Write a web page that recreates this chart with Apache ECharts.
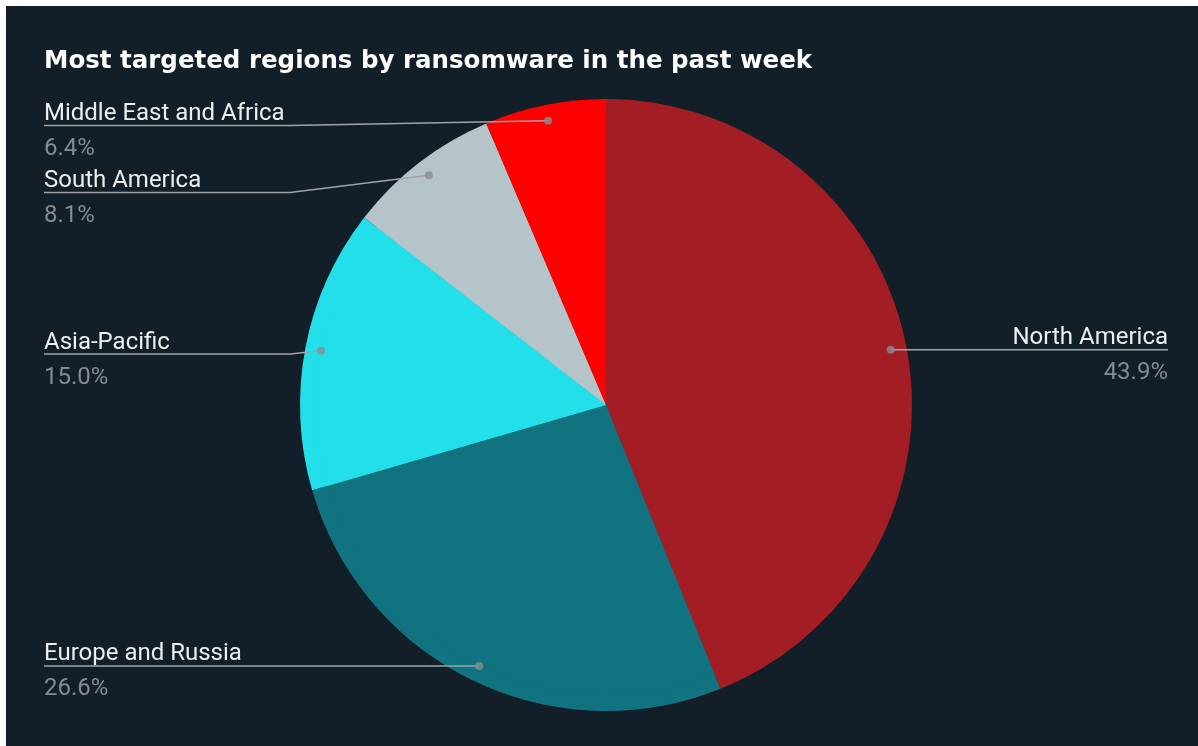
<!DOCTYPE html>
<html lang="en" style="height: 100%">
<head>
    <meta charset="utf-8"/>
    <meta name="viewport" content="width=device-width, initial-scale=1.0"/>
</head>
<body style="height: 100%; margin: 0; overflow: hidden; background: #ffffff">
<div id="container" style="position: absolute; left: 6px; top: 6px; width: 1200px; height: 740px; background: #121e28"></div>

<script type="text/javascript" src="https://cdn.jsdelivr.net/npm/echarts@6/dist/echarts.min.js"></script>

<script type="text/javascript">
    // data
    var regions = ["North America", "Europe and Russia", "Asia-Pacific", "South America", "Middle East and Africa"];
    var shares = [43.9, 26.6, 15.0, 8.1, 6.4];
    var sliceColors = ["#a31d24", "#10737f", "#22dfea", "#b5c4c8", "#ff0000"];

    var R = 306;        // pie radius in px
    var DOT = 0.948;    // where the label dots sit, as a fraction of R
    var center = [600, 399];
    var labelTop = 86;  // labels are kept below this line (under the title)

    var dom = document.getElementById("container");
    var myChart = echarts.init(dom, null, {renderer: "canvas"});

    var pieData = regions.map(function (name, i) {
        return {name: name, value: shares[i], itemStyle: {color: sliceColors[i]}};
    });

    // angle of the middle of each slice, in the same units as the values
    var total = shares.reduce(function (a, b) { return a + b; }, 0);
    var dotData = [];
    var acc = 0;
    shares.forEach(function (v) {
        dotData.push([DOT, acc + v / 2]);
        acc += v;
    });

    var option = {
        backgroundColor: "#121e28",
        title: {
            text: "Most targeted regions by ransomware in the past week",
            left: 38,
            top: 43,
            padding: 0,
            textStyle: {
                color: "#ffffff",
                fontFamily: "DejaVu Sans",
                fontWeight: "bold",
                fontSize: 24.5
            }
        },
        polar: {center: center, radius: R},
        angleAxis: {type: "value", min: 0, max: total, startAngle: 90, clockwise: true, show: false},
        radiusAxis: {type: "value", min: 0, max: 1, show: false},
        series: [
            {
                // the visible pie
                type: "pie",
                z: 1,
                center: center,
                radius: R,
                data: pieData,
                label: {show: false},
                labelLine: {show: false},
                silent: true
            },
            {
                // invisible pie that carries the labels; its box starts under the title
                type: "pie",
                z: 3,
                top: labelTop,
                center: [center[0], center[1] - labelTop],
                radius: R * DOT,
                data: pieData,
                silent: true,
                itemStyle: {color: "transparent"},
                label: {
                    alignTo: "edge",
                    edgeDistance: 38,
                    minMargin: 8,
                    formatter: function (p) {
                        return "{name|" + p.name + "}\n{pct|" + p.value.toFixed(1) + "%}";
                    },
                    rich: {
                        name: {color: "#eeeeee", fontSize: 24, fontFamily: "Roboto", lineHeight: 35},
                        pct: {color: "#858b90", fontSize: 24, fontFamily: "Roboto", lineHeight: 35}
                    }
                },
                labelLine: {
                    length: 0,
                    length2: 10,
                    lineStyle: {color: "#a0a4a8", width: 1.5}
                },
                labelLayout: function (params) {
                    var rect = params.labelRect;
                    var isLeft = rect.x < myChart.getWidth() / 2;
                    var pts = params.labelLinePoints;
                    // pull the start of the line in to the dot
                    var dx = pts[0][0] - center[0];
                    var dy = pts[0][1] - center[1];
                    var k = (R * DOT) / Math.sqrt(dx * dx + dy * dy);
                    var p0 = [center[0] + dx * k, center[1] + dy * k];
                    var y = pts[2][1];
                    var end = isLeft ? rect.x : rect.x + rect.width;
                    var knee = isLeft ? Math.min(p0[0], rect.x + 246) : Math.max(p0[0], rect.x + rect.width - 246);
                    return {dy: 6, labelLinePoints: [p0, [knee, y], [end, y]]};
                }
            },
            {
                type: "scatter",
                coordinateSystem: "polar",
                data: dotData,
                symbolSize: 8,
                itemStyle: {color: "#8a8e92"},
                silent: true,
                z: 5
            }
        ]
    };

    myChart.setOption(option);
    window.addEventListener("resize", myChart.resize);
</script>
</body>
</html>
